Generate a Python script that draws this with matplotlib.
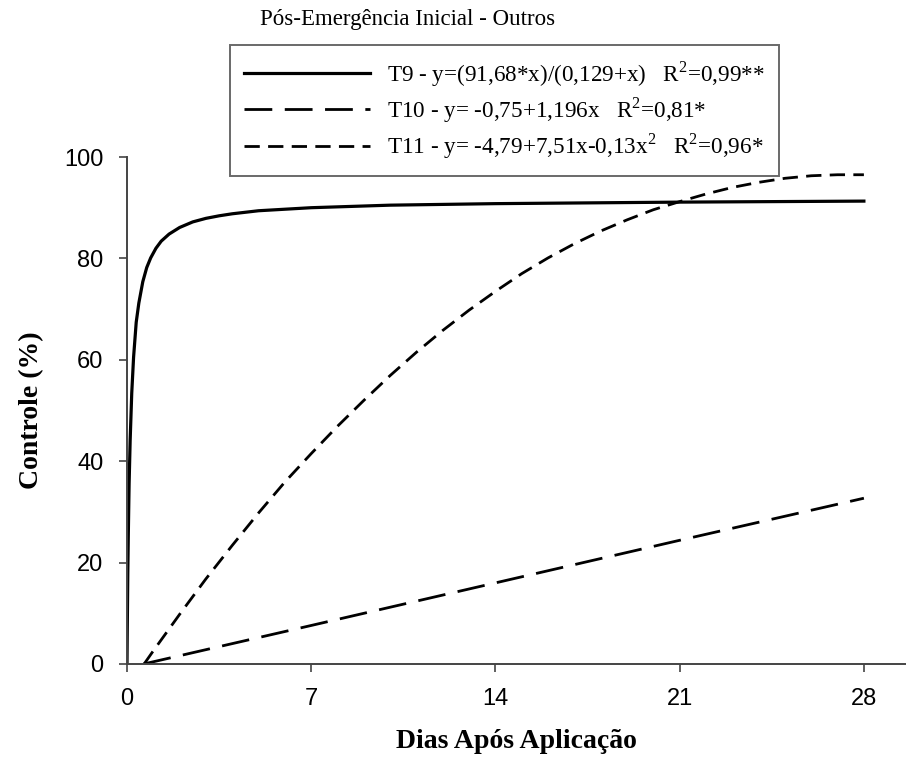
import matplotlib
matplotlib.use("Agg")
import matplotlib.pyplot as plt

# Curves (days after application vs. control %)
t9_days = [0, 0.01, 0.03, 0.05, 0.08, 0.12, 0.18, 0.25, 0.35, 0.45, 0.6, 0.75, 0.9,
           1.1, 1.3, 1.6, 2, 2.5, 3, 3.5, 4, 5, 6, 7, 10, 14, 21, 28]
t9_ctrl = [0, 6.7, 17.8, 25.6, 35.5, 44.1, 53.4, 60.5, 67.4, 71.2, 75.4, 78.2, 80.1,
           82.0, 83.4, 84.8, 86.1, 87.2, 87.9, 88.4, 88.8, 89.4, 89.7, 90.0, 90.5,
           90.8, 91.1, 91.3]

t10_days = [0.63, 7, 14, 21, 28]
t10_ctrl = [0, 7.6, 16.0, 24.4, 32.7]

t11_days = [0.65, 1, 2, 3, 4, 5, 6, 7, 8, 9, 10, 11, 12, 13, 14, 15, 16, 17, 18,
            19, 20, 21, 22, 23, 24, 25, 26, 27, 28]
t11_ctrl = [0, 2.6, 9.8, 16.8, 23.4, 29.8, 35.9, 41.5, 46.9, 52.0, 56.9, 61.5, 65.8,
            69.8, 73.5, 77.0, 80.1, 82.9, 85.4, 87.6, 89.6, 91.2, 92.7, 94.0, 95.0,
            95.8, 96.3, 96.5, 96.5]

labels = [
    "T9 - y=(91,68*x)/(0,129+x)   R$^{2}$=0,99**",
    "T10 - y= -0,75+1,196x   R$^{2}$=0,81*",
    "T11 - y= -4,79+7,51x-0,13x$^{2}$   R$^{2}$=0,96*",
]
x_ticks = [0, 7, 14, 21, 28]
y_ticks = [0, 20, 40, 60, 80, 100]

plt.rcParams["mathtext.fontset"] = "custom"
plt.rcParams["mathtext.rm"] = "Liberation Serif"
plt.rcParams["lines.scale_dashes"] = False

W, H = 906, 759
fig = plt.figure(figsize=(W / 100, H / 100), dpi=100)
ax = fig.add_axes([127 / W, 1 - 664 / H, (W - 127) / W, (664 - 157) / H])

ax.plot(t9_days, t9_ctrl, color="black", lw=2.3, label=labels[0])
ax.plot(t10_days, t10_ctrl, color="black", lw=2.0, dashes=(20, 9), label=labels[1])
ax.plot(t11_days, t11_ctrl, color="black", lw=2.0, dashes=(11, 6), label=labels[2])

ax.set_xlim(0, 29.6)
ax.set_ylim(0, 100)
ax.set_xticks(x_ticks)
ax.set_yticks(y_ticks)
for side in ["top", "right"]:
    ax.spines[side].set_visible(False)
for side in ["left", "bottom"]:
    ax.spines[side].set_color("#444444")
    ax.spines[side].set_linewidth(1.4)
ax.tick_params(direction="out", length=6, width=1.2, color="#444444", pad=11,
               labelsize=17)
for lbl in ax.get_xticklabels() + ax.get_yticklabels():
    lbl.set_family("Liberation Sans")

ax.set_xlabel("Dias Após Aplicação", family="Liberation Serif", fontweight="bold",
              fontsize=20, labelpad=14)
ax.set_ylabel("Controle (%)", family="Liberation Serif", fontweight="bold",
              fontsize=20, labelpad=14)

fig.text(408 / W, 1 - 20 / H, "Pós-Emergência Inicial - Outros", family="Liberation Serif",
         fontsize=16.5, ha="center", va="center")

leg = ax.legend(loc="upper left", bbox_to_anchor=(230 / W, 1 - 45 / H),
                bbox_transform=fig.transFigure, borderaxespad=0, frameon=True,
                fancybox=False, prop={"family": "Liberation Serif", "size": 16.7},
                handlelength=5.4, handletextpad=0.75, labelspacing=0.28,
                borderpad=0.62)
leg.get_frame().set_edgecolor("#444444")
leg.get_frame().set_linewidth(1.4)
leg.set_zorder(5)

fig.savefig("out.png", dpi=100)
